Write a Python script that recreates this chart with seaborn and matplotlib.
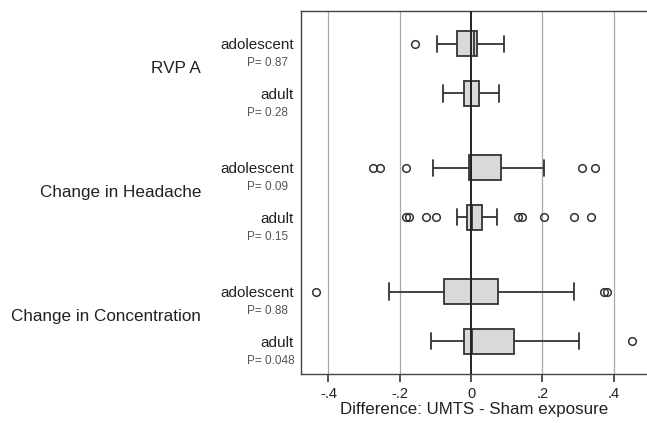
import numpy as np
import pandas as pd
import matplotlib
matplotlib.use('Agg')
import matplotlib.pyplot as plt
import matplotlib.transforms as mtransforms
import seaborn as sns

# Rows, top to bottom
groups = ['RVP A', 'RVP A', 'Change in Headache', 'Change in Headache',
          'Change in Concentration', 'Change in Concentration']
ages = ['adolescent', 'adult', 'adolescent', 'adult', 'adolescent', 'adult']
pvals = ['P= 0.87', 'P= 0.28', 'P= 0.09', 'P= 0.15', 'P= 0.88', 'P= 0.048']
positions = [0, 1, 2.5, 3.5, 5, 6]

# Box statistics (UMTS - Sham)
whis_lo = [-0.094, -0.078, -0.106, -0.040, -0.229, -0.112]
q1 = [-0.040, -0.021, -0.005, -0.012, -0.077, -0.021]
median = [0.008, 0.001, 0.000, 0.002, 0.000, 0.003]
q3 = [0.018, 0.022, 0.084, 0.030, 0.077, 0.121]
whis_hi = [0.093, 0.079, 0.205, 0.072, 0.290, 0.304]
out_lo = [[-0.157], [], [-0.274, -0.255, -0.183],
          [-0.182, -0.175, -0.127, -0.098], [-0.435], []]
out_hi = [[], [], [0.310, 0.349],
          [0.133, 0.143, 0.204, 0.290, 0.338], [0.374, 0.381], [0.452]]

xticks = [-0.4, -0.2, 0, 0.2, 0.4]
xticklabels = ['-.4', '-.2', '0', '.2', '.4']


def sample(i):
    # values whose Tukey box stats are exactly the ones above
    lo, hi = out_lo[i], out_hi[i]
    k = max(len(lo), len(hi)) + 2
    vals = (lo + [whis_lo[i]] + [q1[i]] * (k - len(lo)) + [median[i]] * k
            + [q3[i]] * k + [q3[i]] * (k - 1 - len(hi)) + [whis_hi[i]] + hi)
    return vals


rows = []
for i, p in enumerate(positions):
    for v in sample(i):
        rows.append({'diff': v, 'pos': p})
df = pd.DataFrame(rows)

sns.set_style('ticks')
plt.rcParams['font.family'] = ['Liberation Sans', 'DejaVu Sans']

fig = plt.figure(figsize=(6.47, 4.23), dpi=100)
ax = fig.add_axes([301 / 647, 1 - 374 / 423, 346 / 647, (374 - 11) / 423])

for t in xticks:
    if t != 0:
        ax.axvline(t, color='#a8a8a8', lw=0.9, zorder=0)

sns.boxplot(data=df, x='diff', y='pos', orient='h', native_scale=True,
            width=0.5, whis=1.5, color='#d9d9d9', saturation=1,
            linecolor='#333333', linewidth=1.3, capwidths=0.33,
            flierprops={'marker': 'o', 'markerfacecolor': 'none',
                        'markeredgecolor': '#333333', 'markersize': 5.5,
                        'markeredgewidth': 1.1},
            ax=ax)

ax.axvline(0, color='#222222', lw=1.4, zorder=5)

ax.set_xlim(-0.4769, 0.4937)
ax.set_ylim(6.66, -0.66)
ax.set_yticks([])
ax.set_ylabel('')
ax.tick_params(axis='y', left=False)
ax.set_xticks(xticks)
ax.set_xticklabels(xticklabels)
ax.tick_params(axis='x', direction='out', length=6, width=1.2,
               color='#333333', labelsize=10.5, labelcolor='#222222',
               pad=3, bottom=True)
ax.set_xlabel('Difference: UMTS - Sham exposure', fontsize=12.2,
              color='#222222', labelpad=1)

for side in ['left', 'top', 'bottom']:
    ax.spines[side].set_visible(True)
    ax.spines[side].set_color('#444444')
    ax.spines[side].set_linewidth(1)
ax.spines['right'].set_visible(False)

trans = mtransforms.blended_transform_factory(ax.transAxes, ax.transData)
for i, p in enumerate(positions):
    ax.text(-0.02, p + 0.03, ages[i], transform=trans, ha='right',
            va='center', fontsize=11, color='#222222')
    ax.text(-0.156, p + 0.39, pvals[i], transform=trans, ha='left',
            va='center', fontsize=8.5, color='#555555')

for g in dict.fromkeys(groups):
    ps = [p for p, gg in zip(positions, groups) if gg == g]
    ax.text(-0.289, np.mean(ps), g, transform=trans, ha='right',
            va='center', fontsize=12.3, color='#222222')

fig.savefig('out.png', dpi=100)
